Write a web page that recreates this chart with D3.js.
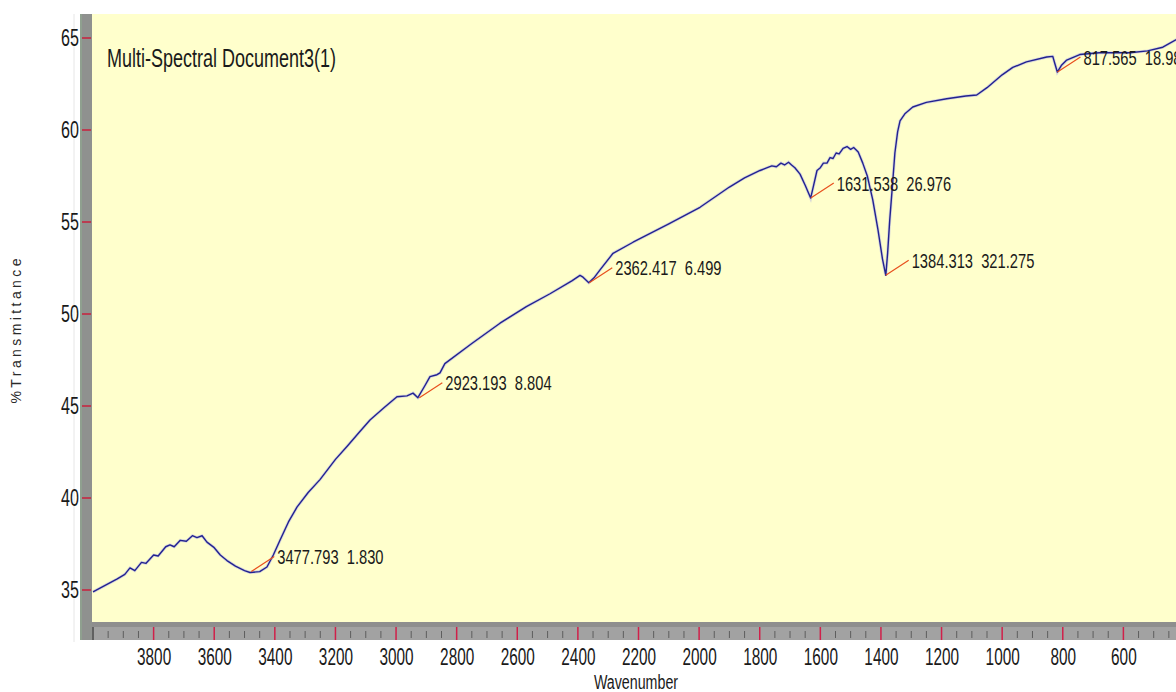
<!DOCTYPE html>
<html>
<head>
<meta charset="utf-8">
<script src="https://cdn.jsdelivr.net/npm/d3@7/dist/d3.min.js"></script>
<style>
  html, body { margin: 0; padding: 0; background: #ffffff; }
  svg { display: block; }
  text { font-family: "Liberation Sans", Arial, sans-serif; white-space: pre; }
</style>
</head>
<body>
<svg id="chart" width="1176" height="692"></svg>
<script>
// ---------------- data ----------------
const wavenumbers = [
  4000, 3960, 3920, 3895, 3878, 3862, 3840, 3825, 3800, 3785, 3760, 3746, 3732, 3712, 3692, 3672, 3657, 3640, 3624,
  3600, 3580, 3558, 3530, 3500, 3482, 3450, 3426, 3405, 3383, 3355, 3327, 3290, 3251, 3200, 3162, 3120, 3086,
  3040, 2997, 2964, 2944, 2928, 2905, 2888, 2865, 2855, 2839, 2750, 2657, 2570, 2492, 2420, 2393, 2383, 2364,
  2345, 2327, 2284, 2218, 2100, 1997, 1900, 1850, 1799, 1775, 1760, 1745, 1730, 1718, 1705, 1695, 1684, 1667,
  1650, 1632, 1622, 1611, 1600, 1590, 1578, 1568, 1558, 1548, 1538, 1525, 1512, 1500, 1490, 1475, 1460, 1445,
  1427, 1410, 1395, 1384, 1378, 1371, 1362, 1354, 1345, 1337, 1320, 1295, 1250, 1183, 1120, 1084, 1050, 1000,
  965, 920, 853, 833, 826, 818, 805, 787, 744, 680, 579, 520, 470, 427, 400
];
const transmittance = [
  34.9, 35.25, 35.6, 35.85, 36.2, 36.05, 36.5, 36.45, 36.9, 36.85, 37.35, 37.45, 37.35, 37.7, 37.65, 37.95, 37.85, 37.95, 37.6,
  37.3, 36.9, 36.6, 36.3, 36.05, 35.95, 36.0, 36.25, 36.9, 37.7, 38.7, 39.5, 40.3, 41.0, 42.1, 42.8, 43.6, 44.24,
  44.9, 45.5, 45.55, 45.7, 45.45, 46.1, 46.6, 46.7, 46.8, 47.3, 48.4, 49.5, 50.4, 51.1, 51.8, 52.1, 52.0, 51.7,
  52.0, 52.4, 53.3, 53.9, 54.9, 55.8, 56.9, 57.4, 57.8, 57.95, 58.05, 58.0, 58.2, 58.1, 58.25, 58.1, 57.95, 57.6,
  57.0, 56.3, 57.0, 57.8, 57.95, 58.2, 58.2, 58.5, 58.45, 58.75, 58.7, 59.0, 59.1, 58.95, 59.05, 58.8, 58.2, 57.5,
  56.2, 54.6, 53.0, 52.1, 53.3, 55.1, 57.0, 58.75, 59.9, 60.5, 60.9, 61.25, 61.5, 61.7, 61.85, 61.9, 62.3, 63.0,
  63.4, 63.7, 63.97, 64.0, 63.6, 63.15, 63.5, 63.8, 64.1, 64.2, 64.2, 64.3, 64.5, 64.9, 65.0
];
const peakWavenumbers = [3477.793, 2923.193, 2362.417, 1631.538, 1384.313, 817.565];
const peakTransmittance = [36.0, 45.45, 51.7, 56.3, 52.1, 63.15];
const peakAreas = ["1.830", "8.804", "6.499", "26.976", "321.275", "18.985"];
const xTickValues = [3800, 3600, 3400, 3200, 3000, 2800, 2600, 2400, 2200, 2000, 1800, 1600, 1400, 1200, 1000, 800, 600];
const yTickValues = [35, 40, 45, 50, 55, 60, 65];
const titleText = "Multi-Spectral Document3(1)";
const xAxisTitle = "Wavenumber";
const yAxisTitle = "%Transmittance";

// ---------------- layout ----------------
const W = 1176, H = 692;
const plotLeft = 92, plotTop = 14, plotBottom = 622, barBottom = 640, barLeft = 80;

const svg = d3.select("#chart");
const x = d3.scaleLinear().domain([4000, 400]).range([93, 1184]);
const y = d3.scaleLinear().domain([35, 65]).range([590, 38]);

// squash text horizontally (reference text is condensed)
function squash(sel, f) {
  sel.each(function () {
    const w = this.getComputedTextLength();
    d3.select(this).attr("textLength", w * f).attr("lengthAdjust", "spacingAndGlyphs");
  });
}

// faint frame line on the left
svg.append("line").attr("x1", 74).attr("x2", 74).attr("y1", plotTop).attr("y2", barBottom + 2)
  .attr("stroke", "#e6e6e6").attr("stroke-width", 1);

// plot background
svg.append("rect").attr("x", plotLeft).attr("y", plotTop)
  .attr("width", W - plotLeft).attr("height", plotBottom - plotTop)
  .attr("fill", "#ffffcc");

// clip
svg.append("clipPath").attr("id", "plotclip").append("rect")
  .attr("x", plotLeft).attr("y", plotTop).attr("width", W - plotLeft).attr("height", plotBottom - plotTop);

const plot = svg.append("g").attr("clip-path", "url(#plotclip)");

// spectrum
const pts = wavenumbers.map((w, i) => [w, transmittance[i]]);
const line = d3.line().x(d => x(d[0])).y(d => y(d[1]));
plot.append("path").datum(pts).attr("d", line)
  .attr("fill", "none").attr("stroke", "#8c8cf0").attr("stroke-width", 3).attr("stroke-opacity", 0.35);
plot.append("path").datum(pts).attr("d", line)
  .attr("fill", "none").attr("stroke", "#22228f").attr("stroke-width", 1.4).attr("stroke-linejoin", "round");

// peak annotations
const dx = 23, dy = -15;
peakWavenumbers.forEach((pw, i) => {
  const px = x(pw), py = y(peakTransmittance[i]);
  plot.append("line").attr("x1", px).attr("y1", py).attr("x2", px + dx).attr("y2", py + dy)
    .attr("stroke", "#e8501e").attr("stroke-width", 1.2);
  const t = plot.append("text")
    .attr("x", px + dx + 3).attr("y", py + dy + 7.5)
    .attr("font-size", 21).attr("fill", "#1a1a1a")
    .text(pw.toFixed(3) + "  " + peakAreas[i]);
  squash(t, 0.7);
});

// title
const tt = svg.append("text").attr("x", 107).attr("y", 67).attr("font-size", 25).attr("fill", "#1a1a1a").text(titleText);
squash(tt, 0.72);

// axis bars
svg.append("rect").attr("x", barLeft).attr("y", plotBottom).attr("width", W - barLeft).attr("height", barBottom - plotBottom)
  .attr("fill", "#a2a2a2");
svg.append("rect").attr("x", barLeft).attr("y", plotBottom).attr("width", W - barLeft).attr("height", 5)
  .attr("fill", "#8e8e8e");
svg.append("rect").attr("x", barLeft).attr("y", plotTop).attr("width", plotLeft - barLeft).attr("height", barBottom - plotTop)
  .attr("fill", "#8f918f");
svg.append("rect").attr("x", barLeft).attr("y", plotTop).attr("width", 2).attr("height", barBottom - plotTop)
  .attr("fill", "#8fa08f");

// minor x ticks
const minor = d3.range(3950, 400, -50).filter(v => v % 200 !== 0);
svg.append("g").selectAll("line").data(minor).join("line")
  .attr("x1", d => x(d)).attr("x2", d => x(d)).attr("y1", 631).attr("y2", 638)
  .attr("stroke", "#5e5e5e").attr("stroke-width", 1);
// major x ticks
svg.append("g").selectAll("line").data(xTickValues).join("line")
  .attr("x1", d => x(d)).attr("x2", d => x(d)).attr("y1", 627).attr("y2", 640)
  .attr("stroke", "#d0204a").attr("stroke-width", 1.5);
svg.append("line").attr("x1", x(4000)).attr("x2", x(4000)).attr("y1", 627).attr("y2", 640)
  .attr("stroke", "#4a4a4a").attr("stroke-width", 1.5);
// y ticks
svg.append("g").selectAll("line").data(yTickValues).join("line")
  .attr("x1", 82).attr("x2", 91).attr("y1", d => y(d)).attr("y2", d => y(d))
  .attr("stroke", "#c8203c").attr("stroke-width", 1.5);

// axes labels via d3 axes
const xAxis = svg.append("g").attr("transform", `translate(0,${barBottom})`)
  .call(d3.axisBottom(x).tickValues(xTickValues).tickSize(0).tickPadding(8).tickFormat(d3.format("d")));
xAxis.select(".domain").remove();
xAxis.selectAll("text").attr("font-size", 24).attr("font-family", "Liberation Sans, Arial, sans-serif").attr("fill", "#1a1a1a");
squash(xAxis.selectAll("text"), 0.64);

const yAxis = svg.append("g").attr("transform", `translate(${barLeft},0)`)
  .call(d3.axisLeft(y).tickValues(yTickValues).tickSize(0).tickPadding(1).tickFormat(d3.format("d")));
yAxis.select(".domain").remove();
yAxis.selectAll("text").attr("font-size", 24).attr("font-family", "Liberation Sans, Arial, sans-serif").attr("fill", "#1a1a1a");
squash(yAxis.selectAll("text"), 0.67);

// axis titles
const xt = svg.append("text").attr("x", 636).attr("y", 689).attr("text-anchor", "middle")
  .attr("font-size", 19.5).attr("fill", "#1a1a1a").text(xAxisTitle);
squash(xt, 0.73);

svg.append("text").attr("transform", "translate(21,331) rotate(-90)").attr("text-anchor", "middle")
  .attr("font-size", 14).attr("fill", "#2a2a2a").attr("font-family", "DejaVu Sans, sans-serif")
  .attr("textLength", 145).attr("lengthAdjust", "spacing").text(yAxisTitle);
</script>
</body>
</html>
